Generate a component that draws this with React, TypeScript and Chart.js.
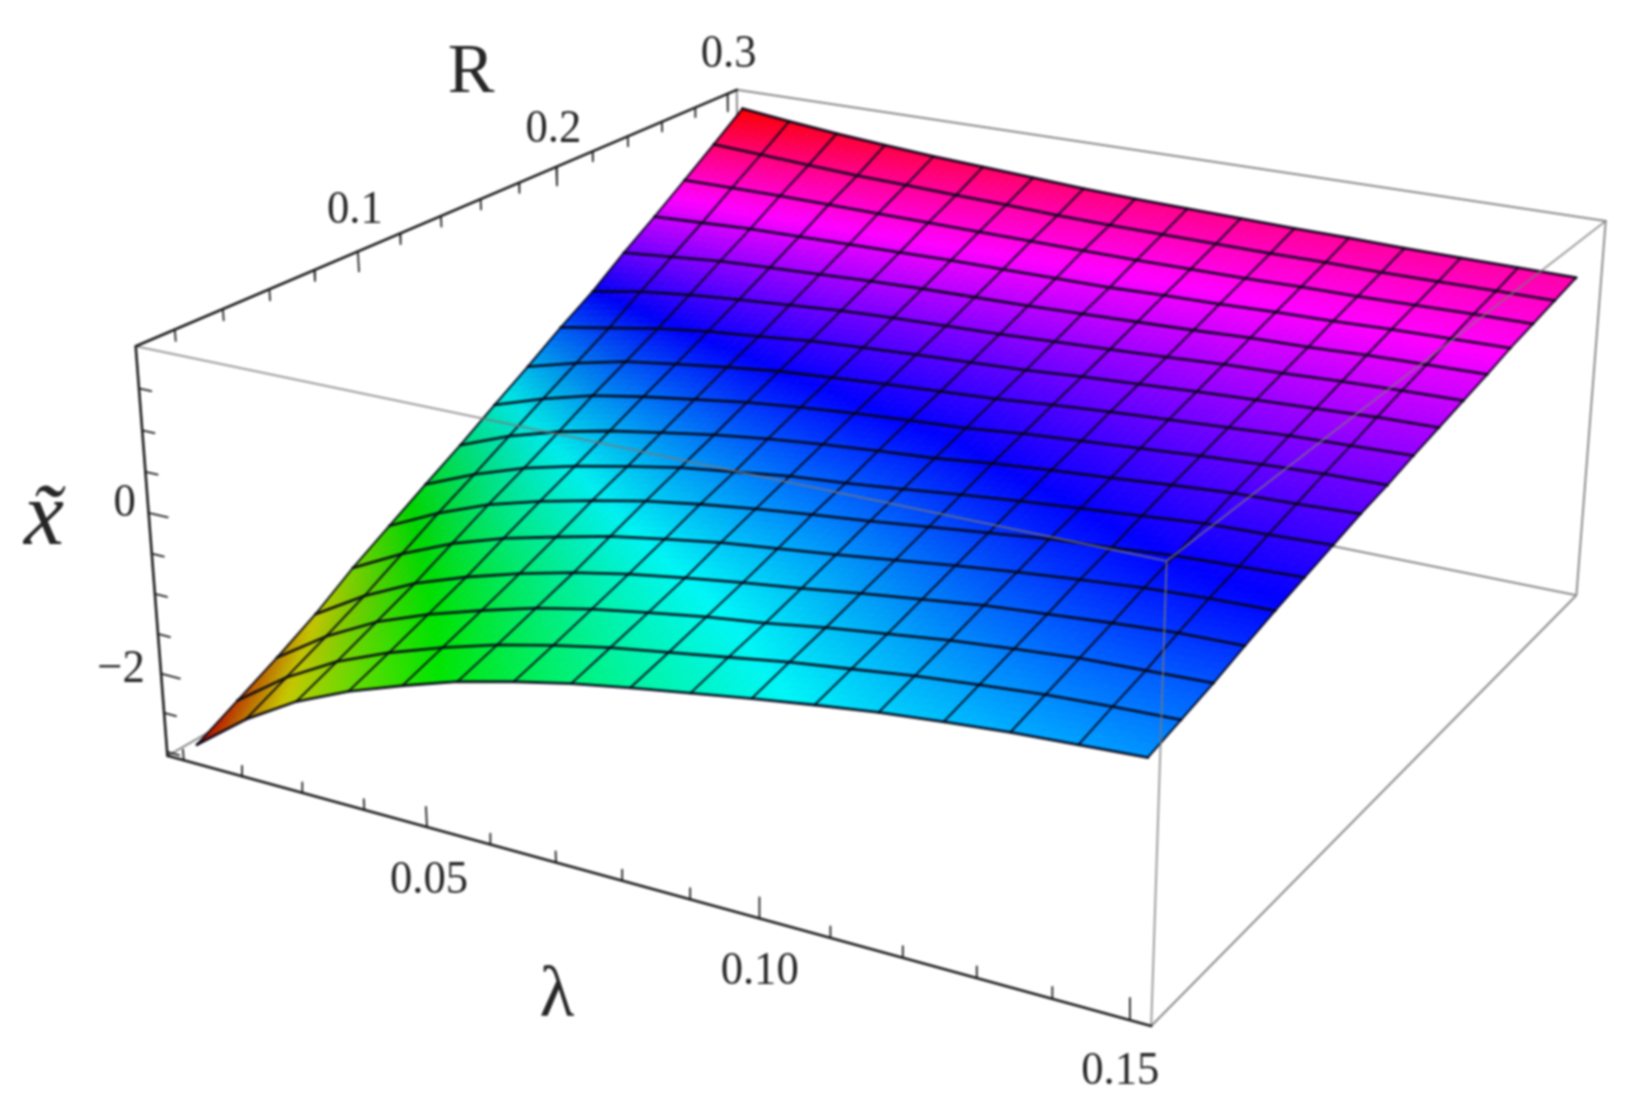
import React, { useEffect, useRef } from "react";
import { Chart, registerables } from "chart.js";

Chart.register(...registerables);

// ---------- data ----------
const lambdaNodes = [0.01, 0.01875, 0.0275, 0.03625, 0.045, 0.05375, 0.0625, 0.07125, 0.08, 0.08875, 0.0975, 0.10625, 0.115, 0.12375, 0.1325, 0.14125, 0.15];
const rNodes = [0.01, 0.0281, 0.0463, 0.0644, 0.0825, 0.1006, 0.1188, 0.1369, 0.155, 0.1731, 0.1913, 0.2094, 0.2275, 0.2456, 0.2638, 0.2819, 0.3];
// surfaceZ[rowIndex for R][columnIndex for lambda]
const surfaceZ = [
  [-2.95, -2.45, -2.05, -1.75, -1.51, -1.29, -1.12, -0.97, -0.85, -0.74, -0.63, -0.53, -0.44, -0.37, -0.31, -0.27, -0.23],
  [-2.69, -2.22, -1.85, -1.57, -1.34, -1.14, -0.98, -0.84, -0.73, -0.62, -0.51, -0.42, -0.33, -0.26, -0.2, -0.16, -0.13],
  [-2.43, -1.99, -1.64, -1.38, -1.17, -0.98, -0.83, -0.71, -0.6, -0.51, -0.4, -0.31, -0.22, -0.15, -0.09, -0.06, -0.03],
  [-2.15, -1.75, -1.43, -1.19, -0.99, -0.82, -0.68, -0.57, -0.47, -0.38, -0.28, -0.19, -0.1, -0.04, 0.02, 0.07, 0.09],
  [-1.82, -1.48, -1.19, -0.97, -0.8, -0.64, -0.52, -0.41, -0.33, -0.25, -0.16, -0.07, 0.01, 0.08, 0.14, 0.18, 0.2],
  [-1.53, -1.21, -0.95, -0.76, -0.6, -0.46, -0.35, -0.26, -0.18, -0.11, -0.03, 0.05, 0.13, 0.18, 0.24, 0.27, 0.3],
  [-1.24, -0.96, -0.73, -0.56, -0.42, -0.29, -0.2, -0.11, -0.05, 0.02, 0.1, 0.17, 0.23, 0.29, 0.35, 0.37, 0.4],
  [-0.96, -0.7, -0.5, -0.35, -0.23, -0.12, -0.03, 0.04, 0.1, 0.15, 0.23, 0.29, 0.34, 0.4, 0.45, 0.47, 0.5],
  [-0.66, -0.44, -0.26, -0.14, -0.04, 0.06, 0.13, 0.19, 0.24, 0.28, 0.35, 0.4, 0.45, 0.5, 0.54, 0.57, 0.58],
  [-0.37, -0.19, -0.04, 0.06, 0.15, 0.23, 0.28, 0.33, 0.37, 0.41, 0.47, 0.52, 0.56, 0.6, 0.64, 0.66, 0.68],
  [-0.06, 0.06, 0.18, 0.27, 0.33, 0.4, 0.44, 0.48, 0.51, 0.54, 0.59, 0.63, 0.67, 0.7, 0.73, 0.76, 0.77],
  [0.22, 0.34, 0.42, 0.48, 0.53, 0.58, 0.61, 0.63, 0.65, 0.68, 0.71, 0.74, 0.78, 0.8, 0.83, 0.85, 0.86],
  [0.55, 0.61, 0.67, 0.7, 0.73, 0.76, 0.78, 0.79, 0.8, 0.82, 0.84, 0.86, 0.89, 0.9, 0.93, 0.94, 0.95],
  [0.85, 0.88, 0.91, 0.92, 0.93, 0.94, 0.95, 0.95, 0.95, 0.95, 0.97, 0.98, 1.0, 1.01, 1.03, 1.04, 1.05],
  [1.17, 1.17, 1.17, 1.16, 1.15, 1.14, 1.13, 1.12, 1.11, 1.1, 1.1, 1.1, 1.11, 1.11, 1.12, 1.13, 1.13],
  [1.49, 1.45, 1.41, 1.37, 1.35, 1.32, 1.3, 1.27, 1.25, 1.24, 1.23, 1.22, 1.22, 1.21, 1.21, 1.21, 1.21],
  [1.82, 1.74, 1.67, 1.61, 1.56, 1.52, 1.48, 1.44, 1.41, 1.39, 1.37, 1.35, 1.34, 1.32, 1.31, 1.3, 1.29],
];
const lambdaRange = [0.0072, 0.1528];
const rRange = [0.0042, 0.3058];
const zRange = [-3.05, 2.0];
const lambdaTicks = [0.01, 0.02, 0.03, 0.04, 0.05, 0.06, 0.07, 0.08, 0.09, 0.1, 0.11, 0.12, 0.13, 0.14, 0.15];
const lambdaMajor = [0.05, 0.1, 0.15];
const rTicks = [0.02, 0.04, 0.06, 0.08, 0.1, 0.12, 0.14, 0.16, 0.18, 0.2, 0.22, 0.24, 0.26, 0.28, 0.3];
const rMajor = [0.1, 0.2, 0.3];
const zTicks = [-3, -2.5, -2, -1.5, -1, -0.5, 0, 0.5, 1, 1.5];
const zMajor = [-2, 0];
const lambdaTickLabels = ["0.05", "0.10", "0.15"];
const rTickLabels = ["0.1", "0.2", "0.3"];
const zTickLabels = ["\u22122", "0"];

// ---------- camera: box corners as seen in the view (u, v, w, viewX, viewY) ----------
const cameraFit = [
  [0, 0, 0, 168, 757],
  [1, 0, 0, 1150, 1025],
  [0, 1, 0, 741, 425],
  [1, 1, 0, 1577, 597],
  [0, 0, 1, 135, 346],
  [1, 0, 1, 1168, 561],
  [0, 1, 1, 737, 91],
  [1, 1, 1, 1605, 220],
];

function solveCamera(): number[] {
  const n = 11;
  const M: number[][] = Array.from({ length: n }, () => new Array(n + 1).fill(0));
  const add = (row: number[], rhs: number) => {
    for (let a = 0; a < n; a++) {
      for (let b = 0; b < n; b++) M[a][b] += row[a] * row[b];
      M[a][n] += row[a] * rhs;
    }
  };
  for (const [u, v, w, x, y] of cameraFit) {
    add([u, v, w, 1, 0, 0, 0, 0, -x * u, -x * v, -x * w], x);
    add([0, 0, 0, 0, u, v, w, 1, -y * u, -y * v, -y * w], y);
  }
  for (let c = 0; c < n; c++) {
    let p = c;
    for (let r = c + 1; r < n; r++) if (Math.abs(M[r][c]) > Math.abs(M[p][c])) p = r;
    [M[c], M[p]] = [M[p], M[c]];
    for (let r = 0; r < n; r++) {
      if (r === c) continue;
      const f = M[r][c] / M[c][c];
      for (let k = c; k <= n; k++) M[r][k] -= f * M[c][k];
    }
  }
  return M.map((row, i) => row[n] / row[i]);
}
const cam = solveCamera();

function project(lambda: number, r: number, z: number) {
  const u = (lambda - lambdaRange[0]) / (lambdaRange[1] - lambdaRange[0]);
  const v = (r - rRange[0]) / (rRange[1] - rRange[0]);
  const w = (z - zRange[0]) / (zRange[1] - zRange[0]);
  const d = cam[8] * u + cam[9] * v + cam[10] * w + 1;
  return {
    x: (cam[0] * u + cam[1] * v + cam[2] * w + cam[3]) / d,
    y: (cam[4] * u + cam[5] * v + cam[6] * w + cam[7]) / d,
  };
}

const gap = { x: NaN, y: NaN };
const [L0, L1] = lambdaRange;
const [R0, R1] = rRange;
const [Z0, Z1] = zRange;

function seg(a: number[], b: number[]) {
  return [project(a[0], a[1], a[2]), project(b[0], b[1], b[2]), gap];
}

const lineSet = (label: string, data: any[], color: string, width: number, order: number) => ({
  label,
  data,
  showLine: true,
  borderColor: color,
  borderWidth: width,
  pointRadius: 0,
  tension: 0,
  fill: false,
  order,
  spanGaps: false,
  borderCapStyle: "round" as const,
  borderJoinStyle: "round" as const,
});

function buildDatasets() {
  const sets: any[] = [];
  // box edges behind the surface
  sets.push(
    lineSet(
      "box-back",
      [
        ...seg([L0, R1, Z1], [L1, R1, Z1]),
        ...seg([L1, R1, Z1], [L1, R1, Z0]),
        ...seg([L1, R1, Z0], [L0, R1, Z0]),
        ...seg([L0, R1, Z1], [L0, R1, Z0]),
        ...seg([L0, R0, Z0], [L0, R1, Z0]),
        ...seg([L1, R0, Z0], [L1, R1, Z0]),
      ],
      "#8c8c8c",
      2,
      40
    )
  );
  // mesh lines
  surfaceZ.forEach((row, j) => {
    sets.push(
      lineSet(`R row ${j}`, row.map((z, i) => project(lambdaNodes[i], rNodes[j], z)), "rgba(6,6,24,0.88)", 2.8, 20)
    );
  });
  lambdaNodes.forEach((l, i) => {
    sets.push(
      lineSet(`lambda column ${i}`, rNodes.map((r, j) => project(l, r, surfaceZ[j][i])), "rgba(6,6,24,0.85)", 2.1, 20)
    );
  });
  // box edges in front of the surface
  sets.push(
    lineSet(
      "box-front",
      [
        ...seg([L0, R0, Z1], [L1, R0, Z1]),
        ...seg([L1, R0, Z1], [L1, R1, Z1]),
        ...seg([L1, R0, Z1], [L1, R0, Z0]),
      ],
      "rgba(120,120,120,0.72)",
      2,
      10
    )
  );
  // black axes
  sets.push(
    lineSet(
      "axes",
      [...seg([L0, R0, Z1], [L0, R1, Z1]), ...seg([L0, R0, Z1], [L0, R0, Z0]), ...seg([L0, R0, Z0], [L1, R0, Z0])],
      "#1c1c1c",
      2.6,
      5
    )
  );
  // ticks
  const ticks: any[] = [];
  const dz = Z1 - Z0;
  const dl = L1 - L0;
  rTicks.forEach((r) => {
    const len = (rMajor.includes(r) ? 0.05 : 0.027) * dz;
    ticks.push(...seg([L0, r, Z1], [L0, r, Z1 - len]));
  });
  lambdaTicks.forEach((l) => {
    const len = (lambdaMajor.includes(l) ? 0.05 : 0.027) * dz;
    ticks.push(...seg([l, R0, Z0], [l, R0, Z0 + len]));
  });
  zTicks.forEach((z) => {
    const len = (zMajor.includes(z) ? 0.022 : 0.014) * dl;
    ticks.push(...seg([L0, R0, z], [L0 + len, R0, z]));
  });
  sets.push(lineSet("ticks", ticks, "#222222", 1.8, 5));
  return sets;
}

function hueRgb(h: number, b: number) {
  const t = ((h % 1) + 1) % 1;
  const f = (n: number) => {
    const k = (n + t * 6) % 6;
    return Math.round(255 * b * (1 - Math.max(0, Math.min(k, 4 - k, 1))));
  };
  return `rgb(${f(5)},${f(3)},${f(1)})`;
}

const zLo = surfaceZ[0][0];
const zHi = surfaceZ[surfaceZ.length - 1][0];

const rLabelShift = [[-3, -41], [-3, -37], [1, -39]];
const lambdaLabelShift = [[2, 54], [0, 53], [-9, 52]];
const zLabelShift = [[-40, -4], [-24, -9]];

const surfacePlugin = {
  id: "surfaceFill",
  afterDatasetDraw(chart: any, args: any) {
    const ds = chart.data.datasets[args.index];
    if (ds.label !== "box-back") return;
    const ctx = chart.ctx;
    const sx = chart.scales.x;
    const sy = chart.scales.y;
    const nI = lambdaNodes.length;
    const nJ = rNodes.length;
    const steep = (j: number, i: number) => {
      const a = surfaceZ[j][Math.max(0, i - 1)];
      const c = surfaceZ[j][Math.min(nI - 1, i + 1)];
      const s = Math.abs(c - a) / (i === 0 || i === nI - 1 ? 1 : 2);
      return 1 - Math.min(0.32, 0.65 * Math.max(0, s - 0.05));
    };
    const sub = 6;
    ctx.save();
    ctx.lineWidth = 1;
    for (let j = nJ - 2; j >= 0; j--) {
      for (let i = 0; i < nI - 1; i++) {
        const lerp = (a: number, c: number, b: number, d: number, s: number, t: number) =>
          a * (1 - s) * (1 - t) + c * s * (1 - t) + b * (1 - s) * t + d * s * t;
        const at = (s: number, t: number) => {
          const l = lambdaNodes[i] + (lambdaNodes[i + 1] - lambdaNodes[i]) * s;
          const r = rNodes[j] + (rNodes[j + 1] - rNodes[j]) * t;
          const z = lerp(surfaceZ[j][i], surfaceZ[j][i + 1], surfaceZ[j + 1][i], surfaceZ[j + 1][i + 1], s, t);
          const p = project(l, r, z);
          return { px: sx.getPixelForValue(p.x), py: sy.getPixelForValue(p.y), z };
        };
        const bright = (s: number, t: number) =>
          lerp(steep(j, i), steep(j, i + 1), steep(j + 1, i), steep(j + 1, i + 1), s, t);
        for (let a = 0; a < sub; a++) {
          for (let b = 0; b < sub; b++) {
            const s0 = a / sub, s1 = (a + 1) / sub, t0 = b / sub, t1 = (b + 1) / sub;
            const p1 = at(s0, t0), p2 = at(s1, t0), p3 = at(s1, t1), p4 = at(s0, t1);
            const mid = at((s0 + s1) / 2, (t0 + t1) / 2);
            const hue = (mid.z - zLo) / (zHi - zLo);
            const col = hueRgb(Math.min(0.995, Math.max(0.005, hue)), bright((s0 + s1) / 2, (t0 + t1) / 2));
            ctx.fillStyle = col;
            ctx.strokeStyle = col;
            ctx.beginPath();
            ctx.moveTo(p1.px, p1.py);
            ctx.lineTo(p2.px, p2.py);
            ctx.lineTo(p3.px, p3.py);
            ctx.lineTo(p4.px, p4.py);
            ctx.closePath();
            ctx.fill();
            ctx.stroke();
          }
        }
      }
    }
    ctx.restore();
  },
  afterDatasetsDraw(chart: any) {
    const ctx = chart.ctx;
    const sx = chart.scales.x;
    const sy = chart.scales.y;
    const put = (text: string, px: number, py: number, font: string, scaleX = 1) => {
      ctx.save();
      ctx.font = font;
      ctx.fillStyle = "#262626";
      ctx.textAlign = "center";
      ctx.textBaseline = "middle";
      ctx.translate(px, py);
      ctx.scale(scaleX, 1);
      ctx.fillText(text, 0, 0);
      ctx.restore();
    };
    const tickFont = '47px "Liberation Serif"';
    const at = (l: number, r: number, z: number, shift: number[]) => {
      const p = project(l, r, z);
      return [sx.getPixelForValue(p.x) + shift[0], sy.getPixelForValue(p.y) + shift[1]];
    };
    rMajor.forEach((r, k) => {
      const [x, y] = at(L0, r, Z1, rLabelShift[k]);
      put(rTickLabels[k], x, y, tickFont, 0.95);
    });
    lambdaMajor.forEach((l, k) => {
      const [x, y] = at(l, R0, Z0, lambdaLabelShift[k]);
      put(lambdaTickLabels[k], x, y, tickFont, 0.95);
    });
    zMajor.forEach((z, k) => {
      const [x, y] = at(L0, R0, z, zLabelShift[k]);
      put(zTickLabels[k], x, y, tickFont, 0.95);
    });
    put("R", sx.getPixelForValue(471), sy.getPixelForValue(74), '70px "Liberation Serif"');
    put("\u03bb", sx.getPixelForValue(557), sy.getPixelForValue(997), '72px "Liberation Serif"');
    put("x\u0303", sx.getPixelForValue(44), sy.getPixelForValue(520), 'italic 90px "Liberation Serif"');
  },
};

export default function App() {
  const ref = useRef<HTMLCanvasElement | null>(null);
  useEffect(() => {
    const chart = new Chart(ref.current as HTMLCanvasElement, {
      type: "scatter",
      data: { datasets: buildDatasets() },
      options: {
        animation: false,
        responsive: false,
        devicePixelRatio: 1,
        layout: { padding: 0 },
        plugins: { legend: { display: false }, tooltip: { enabled: false }, title: { display: false } },
        scales: {
          x: { type: "linear", min: 0, max: 1641, display: false },
          y: { type: "linear", min: 0, max: 1109, reverse: true, display: false },
        },
      },
      plugins: [surfacePlugin],
    } as any);
    return () => chart.destroy();
  }, []);
  return (
    <div style={{ position: "fixed", left: 0, top: 0, width: 1641, height: 1109, background: "#fff", overflow: "hidden" }}>
      <canvas ref={ref} width={1641} height={1109} style={{ display: "block", filter: "blur(0.8px)" }} />
    </div>
  );
}
